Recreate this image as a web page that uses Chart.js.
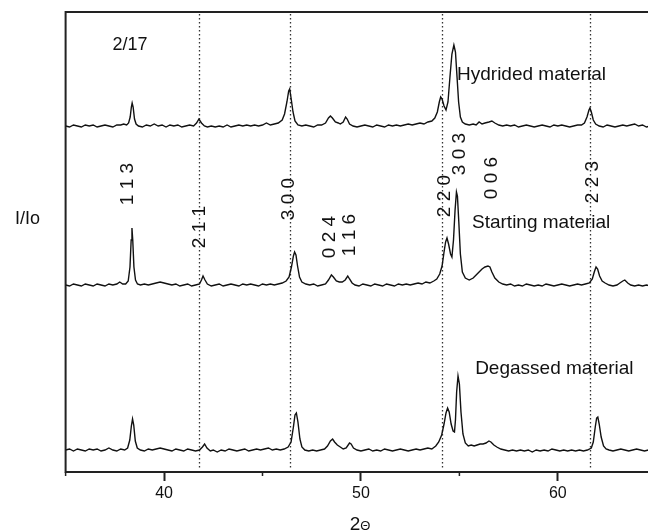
<!DOCTYPE html>
<html lang="en">
<head>
    <meta charset="UTF-8">
    <title>XRD patterns 2/17</title>
    <style>
        html, body {
            margin: 0;
            padding: 0;
            background: #fff;
            overflow: hidden;
        }
        canvas {
            display: block;
        }
    </style>
    <script src="https://cdn.jsdelivr.net/npm/chart.js"></script>
</head>
<body>
    <canvas id="xrdChart" width="660" height="532"></canvas>

    <script>
        // 2-theta / intensity pairs (offset traces, arbitrary units)
        const hydrided = [
            [35.0,346],[35.2,345],[35.4,347],[35.6,346],[35.8,345],[36.0,347],[36.2,346],[36.4,347],[36.6,345],[36.8,346],
            [37.0,347],[37.2,346],[37.4,345],[37.6,347],[37.8,347],[37.95,348],[38.1,347],[38.2,349],[38.28,355],[38.34,365],
            [38.38,369],[38.43,365],[38.5,353],[38.58,348],[38.7,346],[38.9,345],[39.1,347],[39.3,346],[39.5,348],[39.7,346],
            [39.9,347],[40.1,345],[40.3,347],[40.5,346],[40.7,347],[40.9,345],[41.1,346],[41.3,347],[41.5,346],[41.65,349],
            [41.77,353],[41.9,349],[42.05,346],[42.2,345],[42.4,346],[42.6,345],[42.8,346],[43.0,345],[43.2,347],[43.4,345],
            [43.6,346],[43.8,347],[44.0,346],[44.2,347],[44.4,346],[44.6,347],[44.8,346],[45.0,347],[45.2,349],[45.4,347],
            [45.6,348],[45.8,349],[46.0,352],[46.12,358],[46.24,370],[46.33,381],[46.38,383],[46.45,374],[46.55,360],[46.65,351],
            [46.8,347],[47.0,346],[47.2,347],[47.4,346],[47.6,345],[47.8,347],[48.0,347],[48.2,349],[48.35,354],[48.45,356],
            [48.55,354],[48.7,350],[48.85,349],[48.95,348],[49.1,350],[49.22,355],[49.3,353],[49.42,348],[49.6,346],[49.8,345],
            [50.0,346],[50.2,347],[50.4,346],[50.6,345],[50.8,347],[51.0,346],[51.2,345],[51.4,347],[51.6,346],[51.8,347],
            [52.0,346],[52.2,347],[52.4,348],[52.6,347],[52.8,348],[53.0,349],[53.2,348],[53.4,350],[53.6,351],[53.75,354],
            [53.88,360],[53.98,370],[54.05,375],[54.12,373],[54.22,366],[54.32,362],[54.42,370],[54.52,395],[54.62,418],[54.72,427],
            [54.8,420],[54.88,395],[54.96,370],[55.05,355],[55.15,350],[55.3,348],[55.5,347],[55.7,348],[55.85,347],[56.0,350],
            [56.15,348],[56.3,349],[56.5,350],[56.65,351],[56.8,349],[57.0,347],[57.2,346],[57.4,347],[57.6,346],[57.8,347],
            [58.0,345],[58.2,346],[58.4,347],[58.6,346],[58.8,345],[59.0,346],[59.2,347],[59.4,346],[59.6,345],[59.8,347],
            [60.0,346],[60.2,347],[60.4,346],[60.6,345],[60.8,346],[61.0,347],[61.2,347],[61.35,349],[61.48,355],[61.58,362],
            [61.63,364],[61.7,360],[61.8,352],[61.92,348],[62.1,346],[62.3,345],[62.5,347],[62.7,346],[62.9,345],[63.1,346],
            [63.3,347],[63.5,346],[63.7,347],[63.9,348],[64.1,346],[64.3,347],[64.5,345],[64.7,346],[65.0,347]
        ];

        const starting = [
            [35.0,187],[35.2,186],[35.4,188],[35.6,187],[35.8,186],[36.0,188],[36.2,187],[36.4,186],[36.6,188],[36.8,187],
            [37.0,186],[37.2,188],[37.4,187],[37.6,188],[37.75,190],[37.9,188],[38.05,188],[38.18,191],[38.27,205],[38.33,232],
            [38.37,244],[38.41,232],[38.47,205],[38.55,192],[38.65,188],[38.8,187],[39.0,188],[39.2,187],[39.4,188],[39.6,189],
            [39.8,190],[40.0,189],[40.2,188],[40.4,187],[40.6,188],[40.8,186],[41.0,187],[41.2,188],[41.4,186],[41.6,187],
            [41.8,188],[41.9,192],[41.98,196],[42.08,192],[42.2,188],[42.4,186],[42.6,187],[42.8,188],[43.0,186],[43.2,187],
            [43.4,188],[43.6,187],[43.8,186],[44.0,188],[44.2,187],[44.4,188],[44.6,187],[44.8,186],[45.0,188],[45.2,187],
            [45.4,188],[45.6,187],[45.8,188],[46.0,189],[46.2,191],[46.35,195],[46.47,205],[46.57,216],[46.63,220],[46.7,217],
            [46.78,206],[46.88,195],[47.0,190],[47.2,188],[47.4,187],[47.6,188],[47.8,186],[48.0,187],[48.2,188],[48.35,192],
            [48.5,197],[48.6,195],[48.75,191],[48.9,190],[49.05,190],[49.2,192],[49.33,196],[49.42,193],[49.55,189],[49.7,187],
            [49.9,186],[50.1,188],[50.3,187],[50.5,186],[50.7,188],[50.9,187],[51.1,186],[51.3,188],[51.5,187],[51.7,186],
            [51.9,188],[52.1,187],[52.3,188],[52.5,187],[52.7,188],[52.9,189],[53.1,188],[53.3,190],[53.5,189],[53.7,191],
            [53.85,193],[54.0,198],[54.12,206],[54.22,220],[54.3,230],[54.37,234],[54.45,228],[54.55,218],[54.62,215],[54.7,232],
            [54.78,262],[54.85,280],[54.9,276],[54.97,250],[55.05,218],[55.15,200],[55.3,194],[55.5,192],[55.7,194],[55.85,197],
            [56.0,200],[56.15,203],[56.3,205],[56.45,206],[56.55,205],[56.65,200],[56.8,194],[57.0,190],[57.2,188],[57.4,187],
            [57.6,188],[57.8,186],[58.0,187],[58.2,186],[58.4,188],[58.6,187],[58.8,186],[59.0,187],[59.2,186],[59.4,188],
            [59.6,187],[59.8,186],[60.0,187],[60.2,188],[60.4,187],[60.6,186],[60.8,187],[61.0,188],[61.2,187],[61.4,188],
            [61.6,189],[61.75,193],[61.85,200],[61.94,205],[62.02,203],[62.12,196],[62.25,191],[62.4,189],[62.6,187],[62.8,186],
            [63.0,187],[63.15,189],[63.3,191],[63.4,192],[63.55,189],[63.7,187],[63.9,186],[64.1,187],[64.3,186],[64.5,187],
            [64.7,186],[65.0,187]
        ];

        const degassed = [
            [35.0,22],[35.2,23],[35.4,21],[35.6,23],[35.8,22],[36.0,21],[36.2,23],[36.4,22],[36.6,23],[36.8,21],
            [37.0,22],[37.2,24],[37.4,22],[37.6,21],[37.8,23],[38.0,22],[38.15,24],[38.26,32],[38.34,46],[38.4,53],
            [38.46,47],[38.54,31],[38.64,24],[38.8,22],[39.0,21],[39.2,23],[39.4,22],[39.6,23],[39.8,24],[40.0,23],
            [40.2,22],[40.4,21],[40.6,23],[40.8,22],[41.0,21],[41.2,23],[41.4,22],[41.6,21],[41.8,22],[41.95,25],
            [42.06,28],[42.18,24],[42.35,21],[42.5,22],[42.7,20],[42.9,22],[43.1,21],[43.3,23],[43.5,22],[43.7,21],
            [43.9,22],[44.1,23],[44.3,21],[44.5,22],[44.7,23],[44.9,22],[45.1,23],[45.3,24],[45.5,22],[45.7,23],
            [45.9,22],[46.1,23],[46.3,25],[46.45,30],[46.57,45],[46.65,57],[46.72,59],[46.8,50],[46.9,33],[47.0,25],
            [47.15,22],[47.35,21],[47.55,22],[47.75,21],[47.95,22],[48.15,23],[48.3,26],[48.45,31],[48.56,33],[48.66,30],
            [48.8,27],[48.95,25],[49.1,23],[49.25,24],[49.42,29],[49.5,28],[49.62,24],[49.8,22],[50.0,21],[50.2,22],
            [50.4,23],[50.6,21],[50.8,22],[51.0,21],[51.2,23],[51.4,22],[51.6,21],[51.8,22],[52.0,23],[52.2,22],
            [52.4,21],[52.6,22],[52.8,23],[53.0,22],[53.2,23],[53.4,24],[53.6,23],[53.8,26],[53.95,30],[54.1,37],
            [54.22,48],[54.32,59],[54.4,64],[54.48,60],[54.58,48],[54.68,41],[54.75,40],[54.8,52],[54.86,80],[54.93,96],
            [55.0,88],[55.08,60],[55.18,38],[55.3,29],[55.45,26],[55.6,27],[55.75,26],[55.9,27],[56.05,28],[56.2,28],
            [56.35,29],[56.5,31],[56.6,30],[56.75,27],[56.9,25],[57.1,23],[57.3,22],[57.5,21],[57.7,22],[57.9,21],
            [58.1,22],[58.3,21],[58.5,22],[58.7,20],[58.9,22],[59.1,21],[59.3,22],[59.5,21],[59.7,23],[59.9,22],
            [60.1,21],[60.3,22],[60.5,21],[60.7,22],[60.9,21],[61.1,22],[61.3,21],[61.5,22],[61.7,24],[61.8,30],
            [61.9,45],[61.97,54],[62.03,55],[62.1,48],[62.2,35],[62.32,26],[62.45,23],[62.6,22],[62.8,21],[63.0,22],
            [63.2,23],[63.4,22],[63.6,21],[63.8,22],[64.0,23],[64.2,22],[64.4,21],[64.6,22],[64.8,23],[65.0,22]
        ];

        // reflection positions marked with dotted lines
        const refLines = [41.78, 46.4, 54.1, 61.65];

        // Miller indices written next to the peaks
        const hklText = ['1 1 3', '2 1 1', '3 0 0', '0 2 4', '1 1 6', '2 2 0', '3 0 3', '0 0 6', '2 2 3'];
        const hklAngle = [38.17, 41.83, 46.35, 48.43, 49.45, 54.27, 55.03, 56.66, 61.79];
        const hklLevel = [288, 245, 273, 235, 237, 276, 318, 294, 290];

        const sampleNames = ['Hydrided material', 'Starting material', 'Degassed material'];
        const sampleNameAngle = [54.88, 55.64, 55.8];
        const sampleNameLevel = [397, 249, 103];

        const xTicks = [35, 40, 45, 50, 55, 60, 65];

        const FONT = "'Liberation Sans', Arial, sans-serif";
        const INK = '#111';

        const toPoints = arr => arr.map(p => ({ x: p[0], y: p[1] }));

        const overlay = {
            id: 'overlay',
            beforeDatasetsDraw(chart) {
                const { ctx, chartArea: a, scales: { x } } = chart;
                ctx.save();
                ctx.strokeStyle = '#333';
                ctx.lineWidth = 1.3;
                ctx.setLineDash([1.4, 2.6]);
                refLines.forEach(v => {
                    const px = Math.round(x.getPixelForValue(v)) + 0.5;
                    ctx.beginPath();
                    ctx.moveTo(px, a.top + 2);
                    ctx.lineTo(px, a.bottom - 2);
                    ctx.stroke();
                });
                ctx.restore();
            },
            afterDraw(chart) {
                const { ctx, chartArea: a, scales: { x, y } } = chart;
                ctx.save();

                // frame
                ctx.strokeStyle = '#222';
                ctx.lineWidth = 2;
                ctx.strokeRect(a.left, a.top, a.right - a.left, a.bottom - a.top);

                // minor ticks
                ctx.lineWidth = 1.5;
                xTicks.filter(t => t % 10 !== 0).forEach(t => {
                    const px = x.getPixelForValue(t);
                    ctx.beginPath();
                    ctx.moveTo(px, a.bottom);
                    ctx.lineTo(px, a.bottom + 4);
                    ctx.stroke();
                });

                ctx.fillStyle = INK;

                // hkl labels, rotated
                ctx.font = '19px ' + FONT;
                ctx.textAlign = 'center';
                ctx.textBaseline = 'middle';
                hklText.forEach((t, i) => {
                    ctx.save();
                    ctx.translate(x.getPixelForValue(hklAngle[i]), y.getPixelForValue(hklLevel[i]));
                    ctx.rotate(-Math.PI / 2);
                    ctx.fillText(t, 0, 0);
                    ctx.restore();
                });

                // sample names
                ctx.textAlign = 'left';
                sampleNames.forEach((t, i) => {
                    ctx.fillText(t, x.getPixelForValue(sampleNameAngle[i]), y.getPixelForValue(sampleNameLevel[i]));
                });

                // composition label
                ctx.textAlign = 'center';
                ctx.font = '18px ' + FONT;
                ctx.fillText('2/17', x.getPixelForValue(38.27), y.getPixelForValue(427));

                // y axis label
                ctx.fillText('I/Io', a.left - 38, y.getPixelForValue(253));

                // x axis title: 2 Theta
                const cx = x.getPixelForValue(49.95);
                ctx.textAlign = 'left';
                ctx.textBaseline = 'alphabetic';
                ctx.font = '19px ' + FONT;
                const w2 = ctx.measureText('2').width;
                ctx.font = '13px ' + FONT;
                const wt = ctx.measureText('\u0398').width;
                const x0 = cx - (w2 + wt) / 2;
                ctx.font = '19px ' + FONT;
                ctx.fillText('2', x0, 530);
                ctx.font = '13px ' + FONT;
                ctx.fillText('\u0398', x0 + w2, 530);

                ctx.restore();
            }
        };

        const lineStyle = {
            borderColor: '#111',
            borderWidth: 1.4,
            pointRadius: 0,
            tension: 0,
            fill: false
        };

        new Chart(document.getElementById('xrdChart').getContext('2d'), {
            type: 'line',
            data: {
                datasets: [
                    { label: sampleNames[0], data: toPoints(hydrided), ...lineStyle },
                    { label: sampleNames[1], data: toPoints(starting), ...lineStyle },
                    { label: sampleNames[2], data: toPoints(degassed), ...lineStyle }
                ]
            },
            options: {
                responsive: false,
                animation: false,
                layout: {
                    padding: { left: 65.6, top: 12, right: 3.7, bottom: 0 }
                },
                plugins: {
                    legend: { display: false },
                    tooltip: { enabled: false }
                },
                scales: {
                    x: {
                        type: 'linear',
                        min: 35,
                        max: 65,
                        afterFit: s => { s.height = 60; },
                        afterBuildTicks: s => { s.ticks = xTicks.map(v => ({ value: v })); },
                        border: { display: false },
                        grid: {
                            drawOnChartArea: false,
                            drawTicks: true,
                            tickLength: 9,
                            tickWidth: 2,
                            tickColor: c => (c.tick && c.tick.value % 10 === 0) ? '#222' : 'rgba(0,0,0,0)'
                        },
                        ticks: {
                            padding: 3,
                            maxRotation: 0,
                            autoSkip: false,
                            color: INK,
                            font: { family: FONT, size: 16 },
                            callback: v => (v % 10 === 0 && v > 35 && v < 65) ? String(v) : ''
                        }
                    },
                    y: {
                        display: false,
                        min: 0,
                        max: 460
                    }
                }
            },
            plugins: [overlay]
        });
    </script>
</body>
</html>
